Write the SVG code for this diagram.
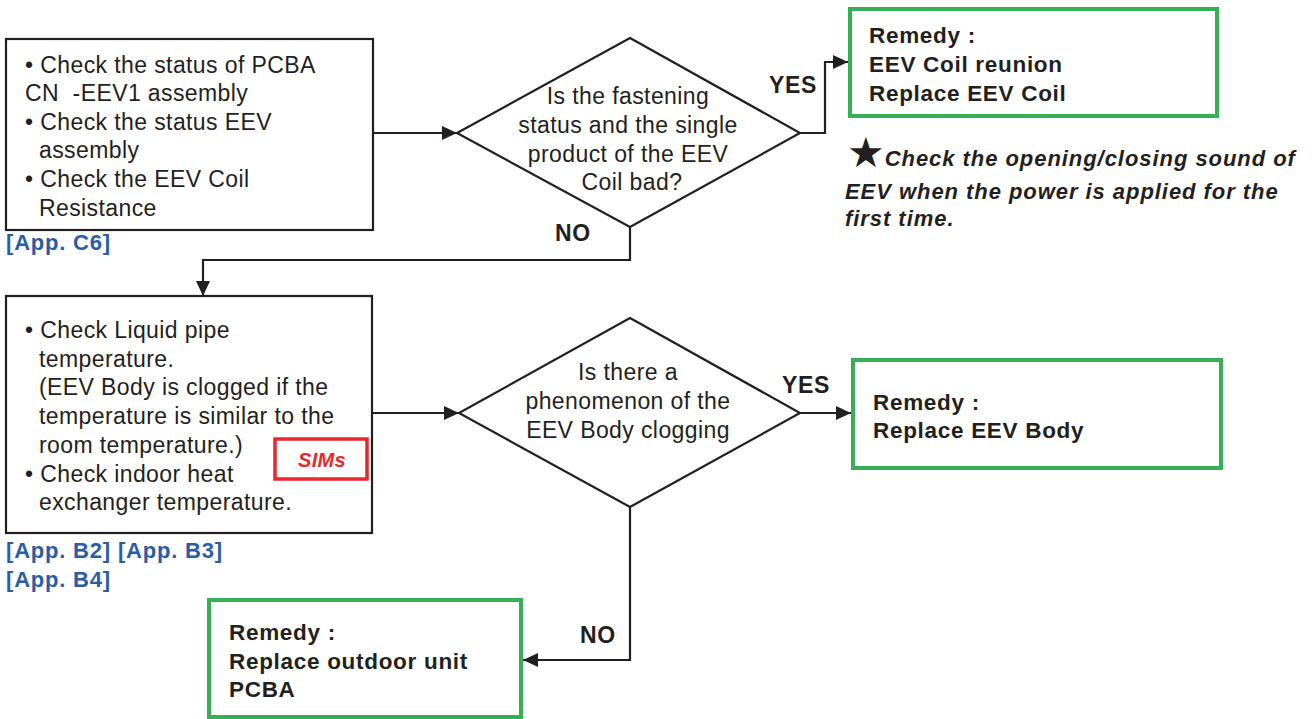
<svg xmlns="http://www.w3.org/2000/svg" width="1314" height="719" viewBox="0 0 1314 719">
<style>
text{font-family:"Liberation Sans",Arial,sans-serif;font-size:23px;fill:#231f20;letter-spacing:0.4px}
.b{font-weight:bold;font-size:22.5px;letter-spacing:0.7px}
.bl{font-weight:bold;fill:#2b5ca8;font-size:22px;letter-spacing:0.8px}
.bi{font-weight:bold;font-style:italic;font-size:22px;letter-spacing:0.95px}
.box{fill:#fff;stroke:#231f20;stroke-width:2.2}
.g{fill:#fff;stroke:#3aad59;stroke-width:4}
.ln{fill:none;stroke:#231f20;stroke-width:2.2}
.c{text-anchor:middle}
</style>
<defs>
<marker id="ah" markerUnits="userSpaceOnUse" markerWidth="16" markerHeight="14" refX="15" refY="7" orient="auto">
<path d="M0,0 L15,7 L0,14 Z" fill="#231f20"/>
</marker>
</defs>
<rect width="1314" height="719" fill="#fff"/>
<g id="connectors">
<path class="ln" d="M373,133 H457" marker-end="url(#ah)"/>
<path class="ln" d="M800,133 H825 V62 H848" marker-end="url(#ah)"/>
<path class="ln" d="M630,227 V260 H203 V296" marker-end="url(#ah)"/>
<path class="ln" d="M372,413 H459" marker-end="url(#ah)"/>
<path class="ln" d="M800,413 H851" marker-end="url(#ah)"/>
<path class="ln" d="M630,507 V660 H523" marker-end="url(#ah)"/>
<text class="b" x="769" y="93" style="font-size:23px">YES</text>
<text class="b" x="555" y="241" style="font-size:23px">NO</text>
<text class="b" x="782" y="393" style="font-size:23px">YES</text>
<text class="b" x="580" y="643" style="font-size:23px">NO</text>
</g>
<g id="check1">
<rect class="box" x="6" y="39" width="367" height="191"/>
<text x="25" y="73">• Check the status of PCBA</text>
<text x="25" y="101">CN&#160; -EEV1 assembly</text>
<text x="25" y="130">• Check the status EEV</text>
<text x="39" y="158">assembly</text>
<text x="25" y="187">• Check the EEV Coil</text>
<text x="39" y="216">Resistance</text>
<text class="bl" x="6" y="250">[App. C6]</text>
</g>
<g id="decision1">
<polygon class="ln" points="630,38 800,133 630,227 457,133" fill="#fff"/>
<text class="c" x="628" y="104">Is the fastening</text>
<text class="c" x="628" y="133">status and the single</text>
<text class="c" x="628" y="162">product of the EEV</text>
<text class="c" x="632" y="190">Coil bad?</text>
</g>
<g id="remedy1">
<rect class="g" x="850" y="9" width="367" height="107"/>
<text class="b" x="869" y="43">Remedy :</text>
<text class="b" x="869" y="72">EEV Coil reunion</text>
<text class="b" x="869" y="101">Replace EEV Coil</text>
</g>
<g id="note">
<text class="bi" x="847" y="167"><tspan font-family="DejaVu Sans" font-style="normal" font-size="42" letter-spacing="0">★</tspan><tspan y="166">Check the opening/closing sound of</tspan></text>
<text class="bi" x="845" y="199">EEV when the power is applied for the</text>
<text class="bi" x="845" y="226">first time.</text>
</g>
<g id="check2">
<rect class="box" x="6" y="296" width="366" height="237"/>
<text x="25" y="338">• Check Liquid pipe</text>
<text x="39" y="367">temperature.</text>
<text x="39" y="395">(EEV Body is clogged if the</text>
<text x="39" y="424">temperature is similar to the</text>
<text x="39" y="453">room temperature.)</text>
<text x="25" y="482">• Check indoor heat</text>
<text x="39" y="510">exchanger temperature.</text>
<text class="bl" x="6" y="558">[App. B2] [App. B3]</text>
<text class="bl" x="6" y="587">[App. B4]</text>
</g>
<g id="sims">
<rect x="275" y="439" width="92" height="40" fill="#fff" stroke="#e8282b" stroke-width="3.5"/>
<text class="bi c" x="322" y="467" style="fill:#e8282b;font-size:20px;letter-spacing:0.3px">SIMs</text>
</g>
<g id="decision2">
<polygon class="ln" points="630,318 800,413 630,507 459,413" fill="#fff"/>
<text class="c" x="628" y="380">Is there a</text>
<text class="c" x="628" y="409">phenomenon of the</text>
<text class="c" x="628" y="438">EEV Body clogging</text>
</g>
<g id="remedy2">
<rect class="g" x="853" y="360" width="368" height="108"/>
<text class="b" x="873" y="410">Remedy :</text>
<text class="b" x="873" y="438">Replace EEV Body</text>
</g>
<g id="remedy3">
<rect class="g" x="209" y="600" width="312" height="117"/>
<text class="b" x="229" y="640">Remedy :</text>
<text class="b" x="229" y="669">Replace outdoor unit</text>
<text class="b" x="229" y="697">PCBA</text>
</g>
</svg>
